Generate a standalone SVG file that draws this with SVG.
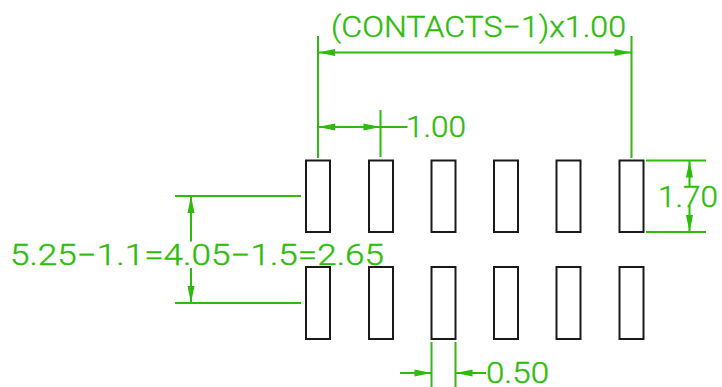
<svg xmlns="http://www.w3.org/2000/svg" width="722" height="387" viewBox="0 0 722 387">
<style>
.pad{fill:none;stroke:#1a1a1a;stroke-width:2}
.dim{fill:none;stroke:#2dbb0c;stroke-width:2}
.txt{fill:#2dbb0c;stroke:#2dbb0c;stroke-width:.35;font-family:"Roboto","Liberation Sans",sans-serif;font-weight:300;font-size:29px}
.ah{fill:#2dbb0c;stroke:none}
</style>
<defs>
<polygon id="a" class="ah" points="0,0 -17,-3.5 -17,3.5"/>
</defs>
<rect width="722" height="387" fill="#fff"/>
<g id="pads">
<g id="pad-t1"><rect class="pad" x="306" y="160.5" width="24" height="71.5"/></g>
<g id="pad-t2"><rect class="pad" x="369" y="160.5" width="24" height="71.5"/></g>
<g id="pad-t3"><rect class="pad" x="431.5" y="160.5" width="24" height="71.5"/></g>
<g id="pad-t4"><rect class="pad" x="494" y="160.5" width="24" height="71.5"/></g>
<g id="pad-t5"><rect class="pad" x="556.5" y="160.5" width="24" height="71.5"/></g>
<g id="pad-t6"><rect class="pad" x="619.5" y="160.5" width="24" height="71.5"/></g>
<g id="pad-b1"><rect class="pad" x="306" y="267" width="24" height="72"/></g>
<g id="pad-b2"><rect class="pad" x="369" y="267" width="24" height="72"/></g>
<g id="pad-b3"><rect class="pad" x="431.5" y="267" width="24" height="72"/></g>
<g id="pad-b4"><rect class="pad" x="494" y="267" width="24" height="72"/></g>
<g id="pad-b5"><rect class="pad" x="556.5" y="267" width="24" height="72"/></g>
<g id="pad-b6"><rect class="pad" x="619.5" y="267" width="24" height="72"/></g>
</g>
<g id="connectors">
<path class="dim" d="M318 36V158M631.5 36V158M318 52.5H631.5"/>
<use href="#a" transform="translate(318 52.5) rotate(180)"/>
<use href="#a" transform="translate(631.5 52.5)"/>
<path class="dim" d="M380.5 110V157M318 127H407.5"/>
<use href="#a" transform="translate(318 127) rotate(180)"/>
<use href="#a" transform="translate(380.5 127)"/>
<path class="dim" d="M175 196H301M175 303H301M191 196V241.5M191 268V303"/>
<use href="#a" transform="translate(191 196) rotate(-90)"/>
<use href="#a" transform="translate(191 303) rotate(90)"/>
<path class="dim" d="M646 160.5H706M646 232H706M689.5 160.5V186M689.5 206V232"/>
<use href="#a" transform="translate(689.5 160.5) rotate(-90)"/>
<use href="#a" transform="translate(689.5 232) rotate(90)"/>
<path class="dim" d="M431.5 342V387M455.5 342V387M400 373H431.5M455.5 373H486"/>
<use href="#a" transform="translate(431.5 373)"/>
<use href="#a" transform="translate(455.5 373) rotate(180)"/>
</g>
<g id="labels">
<text class="txt" x="331" y="37" textLength="295" lengthAdjust="spacingAndGlyphs">(CONTACTS−1)x1.00</text>
<text class="txt" x="406" y="137" textLength="60" lengthAdjust="spacingAndGlyphs">1.00</text>
<text class="txt" x="10" y="265" textLength="374" lengthAdjust="spacingAndGlyphs">5.25−1.1=4.05−1.5=2.65</text>
<text class="txt" x="658" y="206.5" textLength="60" lengthAdjust="spacingAndGlyphs">1.70</text>
<text class="txt" x="486" y="383" textLength="63" lengthAdjust="spacingAndGlyphs">0.50</text>
</g>
</svg>
